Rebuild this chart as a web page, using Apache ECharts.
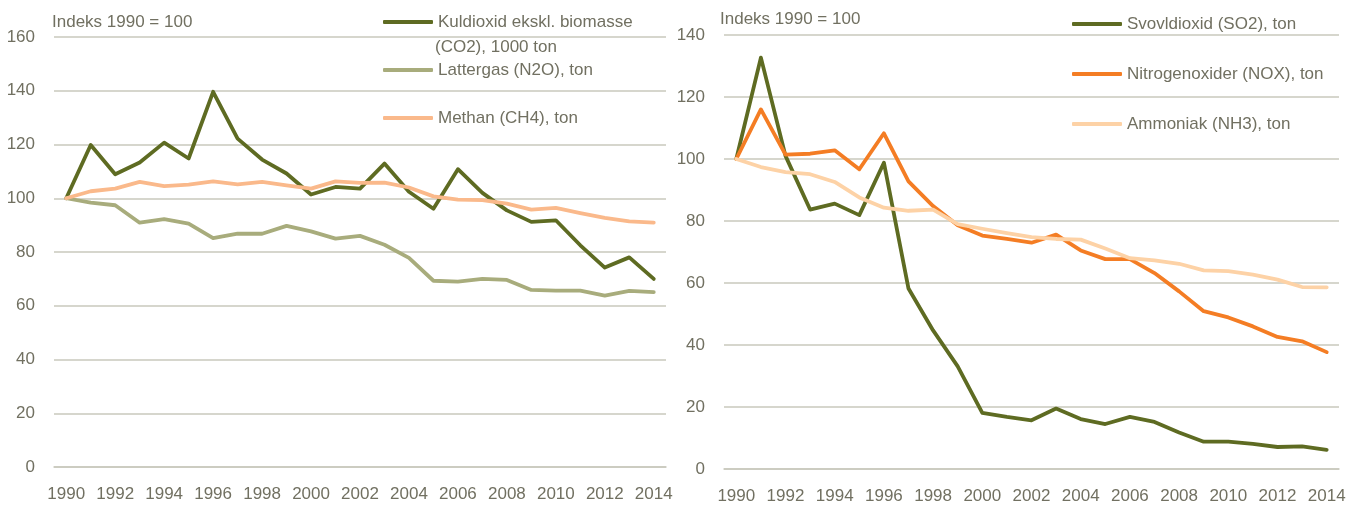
<!DOCTYPE html>
<html>
<head>
<meta charset="utf-8">
<script src="https://cdn.jsdelivr.net/npm/echarts@6/dist/echarts.min.js"></script>
<style>
  html, body { margin: 0; padding: 0; background: #fff; }
  #chart { width: 1361px; height: 509px; }
</style>
</head>
<body>
<div id="chart"></div>
<script>
// data (index 1990 = 100)
var years = ['1990', '1991', '1992', '1993', '1994', '1995', '1996', '1997', '1998', '1999',
  '2000', '2001', '2002', '2003', '2004', '2005', '2006', '2007', '2008', '2009',
  '2010', '2011', '2012', '2013', '2014'];

var co2 = [100, 119.8, 108.9, 113.3, 120.7, 114.8, 139.6, 122.2, 114.4, 109.2, 101.4, 104.2, 103.6,
  112.9, 102.4, 96.1, 110.8, 102.0, 95.5, 91.2, 91.8, 82.5, 74.2, 78.0, 70.0];
var n2o = [100, 98.4, 97.4, 90.9, 92.2, 90.6, 85.2, 86.8, 86.8, 89.7, 87.7, 85.0, 86.0,
  82.7, 77.8, 69.3, 69.0, 70.0, 69.6, 65.9, 65.6, 65.6, 63.8, 65.5, 65.1];
var ch4 = [100, 102.6, 103.6, 106.1, 104.5, 105.1, 106.3, 105.2, 106.1, 104.8, 103.6, 106.3, 105.7,
  105.8, 104.0, 100.7, 99.5, 99.3, 98.0, 95.8, 96.4, 94.5, 92.7, 91.4, 90.9];

var so2 = [100, 132.7, 101.0, 83.7, 85.6, 81.9, 98.8, 58.2, 44.7, 33.1, 18.1, 16.8, 15.7,
  19.5, 16.1, 14.5, 16.8, 15.2, 11.8, 8.8, 8.8, 8.1, 7.1, 7.3, 6.2];
var nox = [100, 116.0, 101.4, 101.7, 102.8, 96.7, 108.3, 92.8, 84.8, 78.6, 75.3, 74.2, 73.0,
  75.6, 70.5, 67.7, 67.7, 63.2, 57.3, 50.9, 48.9, 46.0, 42.6, 41.2, 37.7];
var nh3 = [100, 97.4, 95.8, 95.1, 92.6, 87.6, 84.3, 83.3, 83.7, 79.0, 77.5, 76.1, 74.8,
  74.2, 74.0, 71.1, 68.0, 67.3, 66.2, 64.1, 63.8, 62.7, 61.1, 58.7, 58.6];

var leftNames = ['Kuldioxid ekskl. biomasse (CO2), 1000 ton', 'Lattergas (N2O), ton', 'Methan (CH4), ton'];
var rightNames = ['Svovldioxid (SO2), ton', 'Nitrogenoxider (NOX), ton', 'Ammoniak (NH3), ton'];

var FONT = "'Liberation Sans', Arial, sans-serif";
var FS = 17;
var TXT = '#717061';
var GRID = '#c9c9bd';

function xAxis(idx) {
  return {
    type: 'category',
    gridIndex: idx,
    data: years,
    boundaryGap: true,
    axisLine: { show: true, lineStyle: { color: GRID, width: 1.5 } },
    axisTick: { show: false },
    axisLabel: { interval: 1, color: TXT, fontFamily: FONT, fontSize: FS, margin: 19 }
  };
}

function yAxis(idx, max) {
  return {
    type: 'value',
    gridIndex: idx,
    min: 0,
    max: max,
    interval: 20,
    axisLine: { show: false },
    axisTick: { show: false },
    axisLabel: { color: TXT, fontFamily: FONT, fontSize: FS, margin: 19 },
    splitLine: { lineStyle: { color: GRID, width: 1.5 } }
  };
}

function line(name, idx, data, color) {
  return {
    name: name,
    type: 'line',
    xAxisIndex: idx,
    yAxisIndex: idx,
    data: data,
    symbol: 'none',
    animation: false,
    lineStyle: { color: color, width: 3.8, join: 'round', cap: 'round' },
    itemStyle: { color: color }
  };
}

function legend(left, top, gap, names) {
  return {
    left: left,
    top: top,
    orient: 'vertical',
    icon: 'roundRect',
    itemWidth: 50,
    itemHeight: 4,
    itemGap: gap,
    data: names,
    formatter: function (n) {
      return n === leftNames[0] ? 'Kuldioxid ekskl. biomasse' : n;
    },
    textStyle: { color: TXT, fontFamily: FONT, fontSize: FS, lineHeight: 24 }
  };
}

var chart = echarts.init(document.getElementById('chart'));

var option = {
  animation: false,
  grid: [
    { left: 54, right: 695, top: 37, bottom: 42 },
    { left: 724, right: 22, top: 35, bottom: 40 }
  ],
  xAxis: [xAxis(0), xAxis(1)],
  yAxis: [yAxis(0, 160), yAxis(1, 140)],
  legend: [
    legend(378, 5, 24, leftNames),
    legend(1067, 7, 26, rightNames)
  ],
  graphic: [
    { type: 'text', left: 52, top: 14, style: { text: 'Indeks 1990 = 100', fill: TXT, font: FS + 'px ' + FONT } },
    { type: 'text', left: 720, top: 11, style: { text: 'Indeks 1990 = 100', fill: TXT, font: FS + 'px ' + FONT } },
    { type: 'text', left: 435, top: 39, style: { text: '(CO2), 1000 ton', fill: TXT, font: FS + 'px ' + FONT } }
  ],
  series: [
    line(leftNames[0], 0, co2, '#5e6b22'),
    line(leftNames[1], 0, n2o, '#a8ac7c'),
    line(leftNames[2], 0, ch4, '#fab98b'),
    line(rightNames[0], 1, so2, '#5e6b22'),
    line(rightNames[1], 1, nox, '#f47d24'),
    line(rightNames[2], 1, nh3, '#fdd2a6')
  ]
};

chart.setOption(option);
</script>
</body>
</html>
